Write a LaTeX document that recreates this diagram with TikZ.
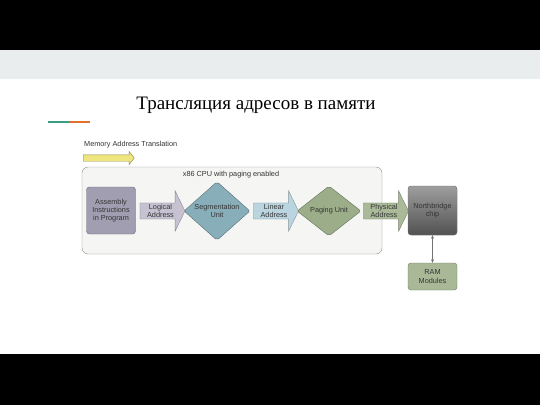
\documentclass[tikz,border=0pt]{standalone}
\usepackage{fontspec}
\setmainfont{Liberation Sans}
\newfontfamily\titlefont{Liberation Serif}
\usetikzlibrary{shapes.geometric,shapes.arrows,arrows.meta}

\definecolor{bandgray}{HTML}{E9EDED}
\definecolor{cpufill}{HTML}{F5F5F4}
\definecolor{asmfill}{HTML}{A29EB2}
\definecolor{logfill}{HTML}{C6C2D1}
\definecolor{segfill}{HTML}{88AEB9}
\definecolor{linfill}{HTML}{BAD5DF}
\definecolor{pagfill}{HTML}{9CAE89}
\definecolor{physfill}{HTML}{AABA99}
\definecolor{ramfill}{HTML}{A9B998}
\definecolor{transfill}{HTML}{EEE57E}
\definecolor{accteal}{HTML}{3A9C84}
\definecolor{accorange}{HTML}{E0702C}

\tikzset{
	lbl/.style={font=\fontsize{7.3}{8.3}\selectfont, text=black!80, align=center},
	box/.style={lbl, draw=#1!65!black, fill=#1, rounded corners=3pt, minimum width=49pt},
	unit/.style={lbl, diamond, draw=#1!65!black, fill=#1, rounded corners=2pt, inner sep=0pt},
	addr/.style={lbl, single arrow, draw=#1!70!black, fill=#1, minimum height=45pt,
		single arrow head extend=12pt, single arrow tip angle=128, inner xsep=2pt, inner ysep=1pt},
}

\begin{document}
\begin{tikzpicture}[x=1pt, y=-1pt]
	\useasboundingbox (0,0) rectangle (540,405);
	\fill[black] (0,0) rectangle (540,50);
	\fill[bandgray] (0,50) rectangle (540,79);
	\fill[black] (0,354) rectangle (540,405);
	\node (title) at (256,105) {\titlefont\fontsize{19}{22}\selectfont Трансляция адресов в памяти};
	\fill[accteal] (48,120.5) rectangle (69,123);
	\fill[accorange] (69,120.5) rectangle (90,123);

	\node[lbl, anchor=west, inner sep=0pt] (memlbl) at (84,145) {Memory Address Translation};
	\node[single arrow, draw=transfill!60!black, fill=transfill, minimum height=51pt,
		text height=3pt, text depth=3pt, single arrow head extend=3.5pt, single arrow tip angle=105,
		inner sep=0pt] (trans) at (107.5,158) {};

	\filldraw[fill=cpufill, draw=black!45, rounded corners=6pt] (82,167) rectangle (382,254);
	\node[lbl] (cpulbl) at (231,174.5) {x86 CPU with paging enabled};

	\node[box=asmfill, minimum height=47pt] (asm) at (111,210.5) {Assembly\\Instructions\\in Program};
	\node[addr=logfill] (logical) at (160.5,211) {Logical\\Address};
	\node[unit=segfill, minimum width=66pt, minimum height=49pt] (seg) at (217,211) {Segmentation\\Unit};
	\node[addr=linfill] (linear) at (274,211) {Linear\\Address};
	\node[unit=pagfill, minimum width=64pt, minimum height=50pt] (paging) at (329,211) {Paging Unit};
	\node[addr=physfill] (physical) at (384,211) {Physical\\Address};
	\node[box=gray, draw=black!55, top color=black!38, bottom color=black!68,
		minimum height=49pt] (nb) at (432.5,210.5) {Northbridge\\chip};
	\node[box=ramfill, minimum height=27pt] (ram) at (432.5,276.5) {RAM\\Modules};
	\draw[black!55, {Stealth[length=3.5pt,width=3pt]}-{Stealth[length=3.5pt,width=3pt]}] (nb) -- (ram);
\end{tikzpicture}
\end{document}
